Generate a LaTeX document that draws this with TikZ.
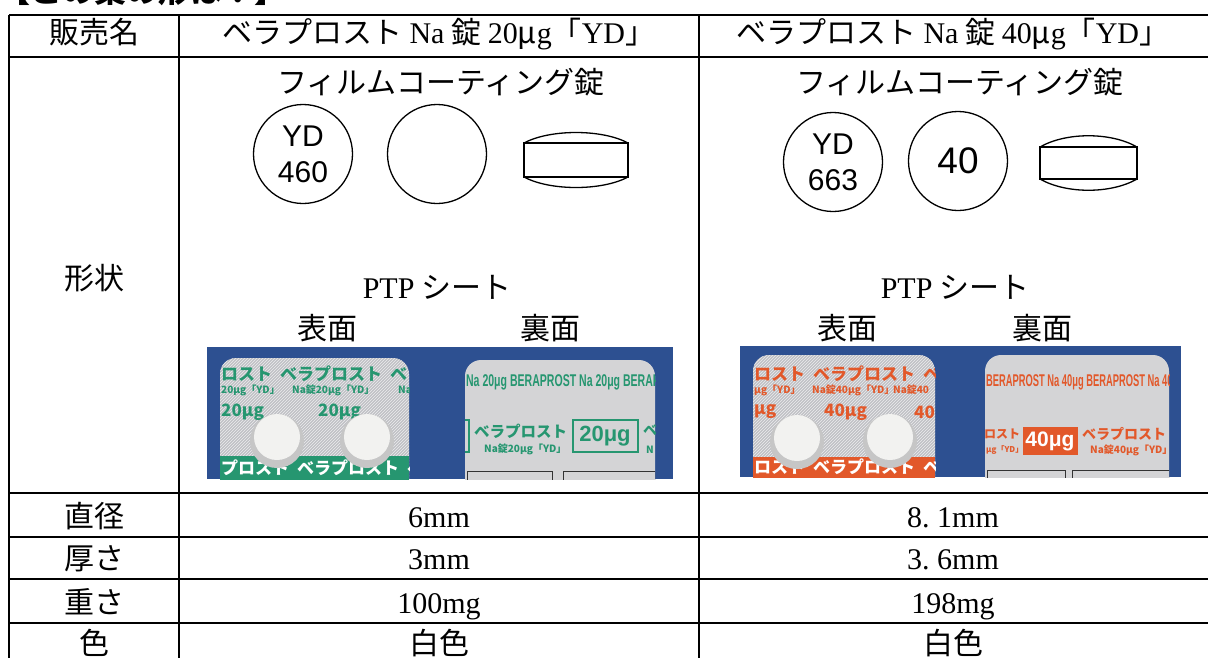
\documentclass[tikz,border=0pt]{standalone}
\usepackage{fontspec}
\setmainfont{Liberation Serif}
\newfontfamily\cjk{Noto Sans CJK JP}
\newfontfamily\arial{Liberation Sans}
\usetikzlibrary{patterns}
\definecolor{sheetblue}{RGB}{45,80,145}
\definecolor{foil}{RGB}{192,193,197}
\definecolor{foilback}{RGB}{212,212,214}
\definecolor{pillwhite}{RGB}{242,242,240}
\definecolor{ydgreen}{RGB}{38,150,112}
\definecolor{ydorange}{RGB}{226,88,42}
\tikzset{rule/.style={line width=1.5pt},
  cell/.style={anchor=base, inner sep=0pt, font=\cjk\fontsize{30}{30}\selectfont},
  numcell/.style={anchor=base, inner sep=0pt, font=\rmfamily\fontsize{30}{30}\selectfont},
  tabletface/.style={circle, draw, line width=1.3pt, minimum size=99pt, inner sep=0pt,
    align=center, font=\arial\fontsize{30}{36}\selectfont},
  tablet/.style={line width=1.3pt},
  foilprint/.style={text=#1, inner sep=0pt, anchor=west, font=\cjk\bfseries\fontsize{17}{17}\selectfont},
  foilsmall/.style={text=#1, inner sep=0pt, anchor=west, font=\cjk\bfseries\fontsize{10}{10}\selectfont},
  foillatin/.style={text=#1, inner sep=0pt, anchor=west, font=\arial\bfseries\fontsize{17}{17}\selectfont}}

\begin{document}
\begin{tikzpicture}[x=1pt,y=-1pt]
        \useasboundingbox (0,0) rectangle (1208,657);
        \clip (0,0) rectangle (1208,657);

        \node[anchor=base west, inner sep=0pt, font=\cjk\bfseries\fontsize{32}{32}\selectfont]
            (title) at (-2,2) {【この薬の形は？】};

        % table rules
        \draw[rule] (9,15) -- (1210,15);
        \draw[rule] (9,57) -- (1210,57);
        \draw[rule] (9,493) -- (1210,493);
        \draw[rule] (9,537) -- (1210,537);
        \draw[rule] (9,579) -- (1210,579);
        \draw[rule] (9,623) -- (1210,623);
        \draw[rule] (9,15) -- (9,670);
        \draw[rule] (179,15) -- (179,670);
        \draw[rule] (699,15) -- (699,670);
        \draw[rule] (1210,15) -- (1210,670);

        \node[cell] (hname) at (94,43) {販売名};
        \node[cell] (hname20) at (439,43) {ベラプロスト {\rmfamily Na} 錠 {\rmfamily 20}μ{\rmfamily g}「{\rmfamily YD}」};
        \node[cell] (hname40) at (953,43) {ベラプロスト {\rmfamily Na} 錠 {\rmfamily 40}μ{\rmfamily g}「{\rmfamily YD}」};

        \node[cell] (shape) at (94,289) {形状};
        \node[cell] (coat20) at (441,93) {フィルムコーティング錠};
        \node[cell] (coat40) at (960,93) {フィルムコーティング錠};

        \node[tabletface] (face20) at (303,154) {YD\\460};
        \node[tabletface] (rear20) at (437,154) {};
        \draw[tablet] (524,143) rectangle (628,177);
        \draw[tablet] (524,143) .. controls (550,129) and (602,129) .. (628,143);
        \draw[tablet] (524,177) .. controls (550,191) and (602,191) .. (628,177);

        \node[tabletface] (face40) at (833,162) {YD\\663};
        \node[tabletface, font=\arial\fontsize{37}{37}\selectfont] (rear40) at (958,161) {40};
        \draw[tablet] (1040,147) rectangle (1137,179);
        \draw[tablet] (1040,147) .. controls (1066,132) and (1111,132) .. (1137,147);
        \draw[tablet] (1040,179) .. controls (1066,194) and (1111,194) .. (1137,179);

        \node[cell] (ptp20) at (437,298) {{\rmfamily PTP} シート};
        \node[cell] (front20) at (327,339) {表面};
        \node[cell] (back20) at (550,339) {裏面};
        \node[cell] (ptp40) at (955,298) {{\rmfamily PTP} シート};
        \node[cell] (front40) at (847,339) {表面};
        \node[cell] (back40) at (1042,339) {裏面};

        % PTP photo, 20
        \fill[sheetblue] (207,347) rectangle (673,479);
        \begin{scope}
        \clip (207,347) rectangle (673,479);
        \fill[foil, rounded corners=16, postaction={pattern=north east lines, pattern color=white!70!foil}]
            (220,520) -- (220,358) -- (409,358) -- (409,520) -- cycle;
        \begin{scope}
        \clip[rounded corners=16] (220,520) -- (220,358) -- (409,358) -- (409,520) -- cycle;
        \fill[ydgreen] (220,456) rectangle (409,520);
        \node[foilprint=ydgreen] (f20a) at (221,374) {ロスト\hspace{8pt}ベラプロスト\hspace{8pt}ベ};
        \node[foilsmall=ydgreen] (f20b) at (221,390) {20μg「YD」};
        \node[foilsmall=ydgreen] (f20c) at (292,390) {Na錠20μg「YD」};
        \node[foilsmall=ydgreen] (f20d) at (398,390) {Na};
        \node[foilprint=ydgreen] (f20e) at (221,412) {20μg};
        \node[foilprint=ydgreen] (f20f) at (318,412) {20μg};
        \node[foilprint=white] (f20g) at (221,468) {プロスト\hspace{8pt}ベラプロスト\hspace{8pt}ベ};
        \end{scope}
        \fill[gray!45] (277,441) circle (27);
        \fill[pillwhite] (277,437) circle (23);
        \fill[gray!45] (367,441) circle (27);
        \fill[pillwhite] (367,437) circle (23);

        \fill[foilback, rounded corners=16] (465,520) -- (465,360) -- (655,360) -- (655,520) -- cycle;
        \begin{scope}
        \clip[rounded corners=16] (465,520) -- (465,360) -- (655,360) -- (655,520) -- cycle;
        \node[foillatin=ydgreen, xscale=0.62] (b20a) at (466,382) {Na 20μg BERAPROST Na 20μg BERAP};
        \draw[ydgreen, line width=1.5pt] (458,420) -- (469,420) -- (469,452) -- (458,452);
        \node[foilprint=ydgreen, font=\cjk\bfseries\fontsize{15.5}{15.5}\selectfont] (b20b) at (474,431) {ベラプロスト};
        \node[foilsmall=ydgreen] (b20c) at (484,449) {Na錠20μg「YD」};
        \draw[ydgreen, line width=1.5pt] (573,420) rectangle (638,452);
        \node[foillatin=ydgreen, font=\arial\bfseries\fontsize{22}{22}\selectfont, anchor=center] (b20d) at (605,436) {20μg};
        \node[foilprint=ydgreen, font=\cjk\bfseries\fontsize{14}{14}\selectfont] (b20e) at (643,430) {ベ};
        \node[foilsmall=ydgreen] (b20f) at (646,450) {N};
        \draw[black!80, line width=0.8pt] (467,471) rectangle (552,490);
        \draw[black!80, line width=0.8pt] (563,471) rectangle (655,490);
        \end{scope}
        \end{scope}

        % PTP photo, 40
        \fill[sheetblue] (740,346) rectangle (1181,477);
        \begin{scope}
        \clip (740,346) rectangle (1181,477);
        \fill[foil, rounded corners=16, postaction={pattern=north east lines, pattern color=white!70!foil}]
            (753,520) -- (753,355) -- (935,355) -- (935,520) -- cycle;
        \begin{scope}
        \clip[rounded corners=16] (753,520) -- (753,355) -- (935,355) -- (935,520) -- cycle;
        \fill[ydorange] (753,457) rectangle (935,520);
        \node[foilprint=ydorange] (f40a) at (754,374) {ロスト\hspace{8pt}ベラプロスト\hspace{8pt}ベラプ};
        \node[foilsmall=ydorange] (f40b) at (754,390) {μg「YD」};
        \node[foilsmall=ydorange] (f40c) at (812,390) {Na錠40μg「YD」};
        \node[foilsmall=ydorange] (f40d) at (893,390) {Na錠40};
        \node[foilprint=ydorange] (f40e) at (754,412) {μg};
        \node[foilprint=ydorange] (f40f) at (824,412) {40μg};
        \node[foilprint=ydorange] (f40g) at (914,412) {40};
        \node[foilprint=white] (f40h) at (754,467) {ロスト\hspace{8pt}ベラプロスト\hspace{8pt}ベラプ};
        \end{scope}
        \fill[gray!45] (797,442) circle (27);
        \fill[pillwhite] (797,438) circle (23);
        \fill[gray!45] (890,441) circle (27);
        \fill[pillwhite] (890,437) circle (23);

        \fill[foilback, rounded corners=16] (985,520) -- (985,355) -- (1169,355) -- (1169,520) -- cycle;
        \begin{scope}
        \clip[rounded corners=16] (985,520) -- (985,355) -- (1169,355) -- (1169,520) -- cycle;
        \node[foillatin=ydorange, xscale=0.55] (b40a) at (986,382) {BERAPROST Na 40μg BERAPROST Na 40μg};
        \node[foilprint=ydorange, font=\cjk\bfseries\fontsize{12}{12}\selectfont] (b40b) at (984,434) {ロスト};
        \node[foilsmall=ydorange, font=\cjk\bfseries\fontsize{8}{8}\selectfont] (b40c) at (986,450) {μg「YD」};
        \fill[ydorange] (1023,427) rectangle (1078,455);
        \node[foillatin=white, font=\arial\bfseries\fontsize{21}{21}\selectfont, anchor=center] (b40d) at (1050,441) {40μg};
        \node[foilprint=ydorange, font=\cjk\bfseries\fontsize{14}{14}\selectfont] (b40e) at (1082,434) {ベラプロスト};
        \node[foilsmall=ydorange] (b40f) at (1090,450) {Na錠40μg「YD」};
        \draw[black!80, line width=0.8pt] (987,470) rectangle (1065,490);
        \draw[black!80, line width=0.8pt] (1072,470) rectangle (1169,490);
        \end{scope}
        \end{scope}

        \node[cell] (diam) at (94,527) {直径};
        \node[numcell] (diam20) at (439,527) {6mm};
        \node[numcell] (diam40) at (953,527) {8.\hspace{0.25em}1mm};
        \node[cell] (thick) at (94,569) {厚さ};
        \node[numcell] (thick20) at (439,569) {3mm};
        \node[numcell] (thick40) at (953,569) {3.\hspace{0.25em}6mm};
        \node[cell] (weight) at (94,613) {重さ};
        \node[numcell] (weight20) at (439,613) {100mg};
        \node[numcell] (weight40) at (953,613) {198mg};
        \node[cell] (colour) at (94,654) {色};
        \node[cell] (colour20) at (439,654) {白色};
        \node[cell] (colour40) at (953,654) {白色};
\end{tikzpicture}
\end{document}
